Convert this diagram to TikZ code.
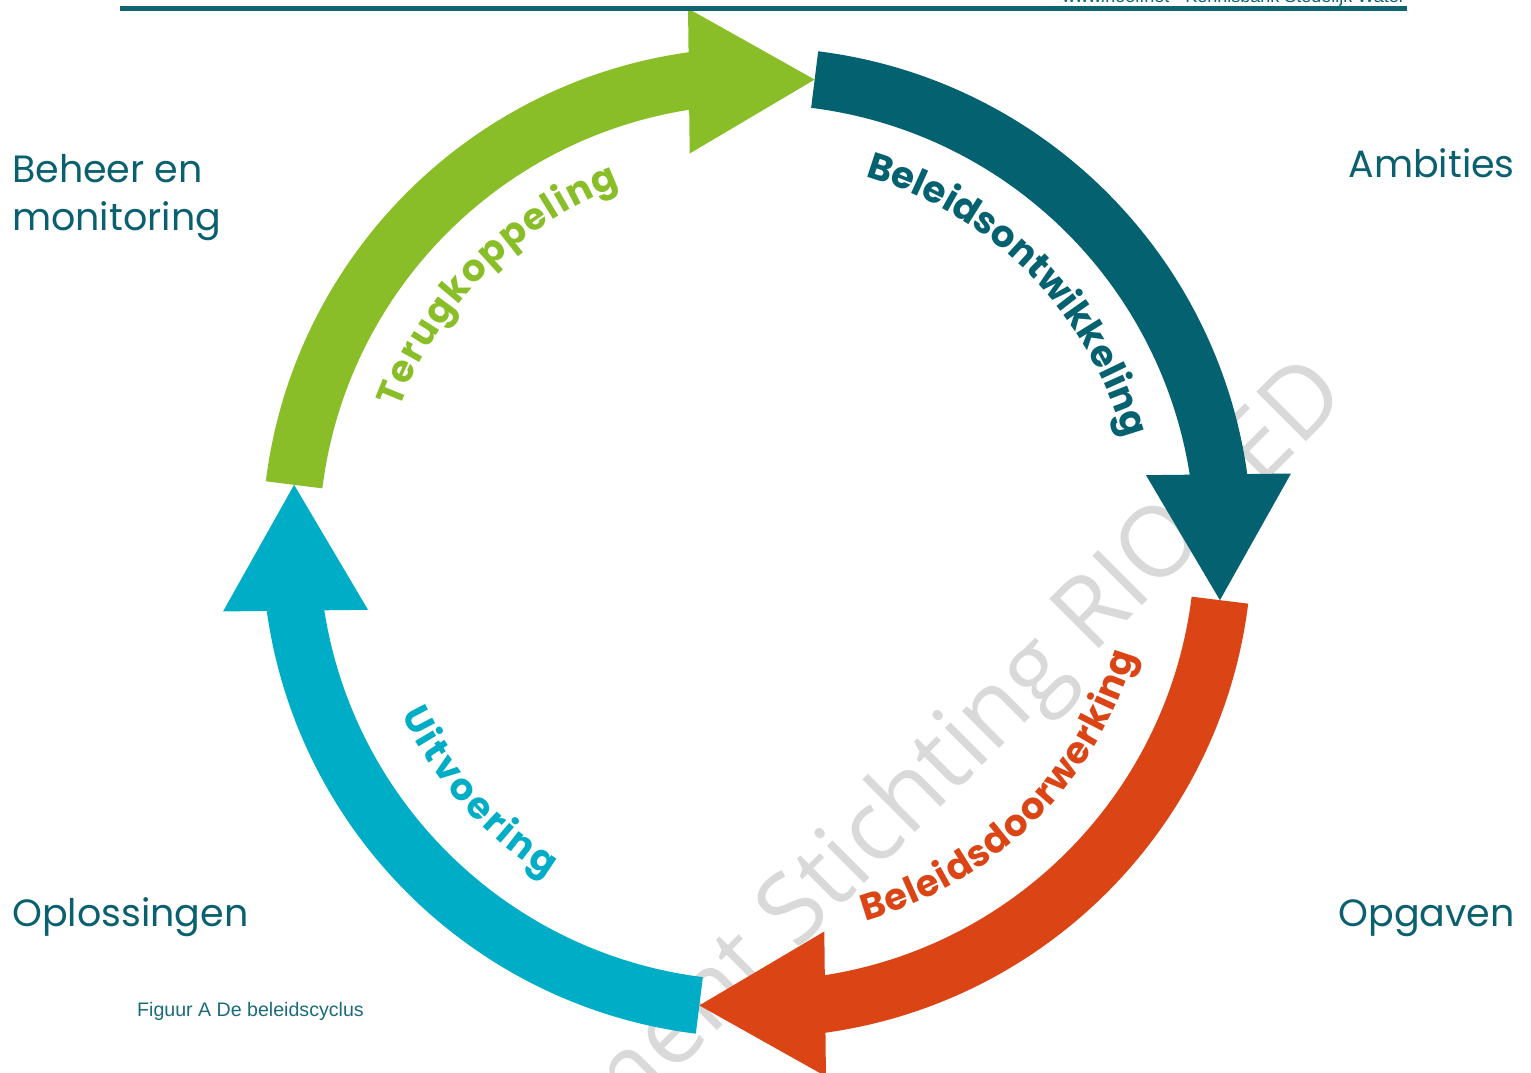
\documentclass[tikz,border=0pt]{standalone}
\usepackage{fontspec}
\usetikzlibrary{calc,decorations.text}
\newfontfamily\popf{Poppins}
\newfontfamily\opens{Open Sans}
\newfontfamily\arialf{Liberation Sans}
\definecolor{cgreen}{RGB}{138,190,40}
\definecolor{cteal}{RGB}{4,98,112}
\definecolor{corange}{RGB}{219,69,21}
\definecolor{ccyan}{RGB}{0,173,198}
\definecolor{clabel}{RGB}{10,96,110}
\definecolor{cwm}{RGB}{217,217,217}
\definecolor{cline}{RGB}{14,101,113}
\definecolor{ccap}{RGB}{27,107,122}
\newcommand\cycarrow[2]{%
  \pgfmathsetmacro\angE{#2-76}%
  \pgfmathsetmacro\angB{#2-74.5}%
  \pgfmathsetmacro\angT{#2-90}%
  \pgfmathsetmacro\angM{#2-82.25}%
  \pgfmathsetmacro\angN{#2-82.25+180}%
  \fill[#1] ([shift={(#2:495)}]C) arc[start angle=#2, end angle=\angE, radius=495]
     -- ([shift={(\angE:438)}]C) arc[start angle=\angE, end angle=#2, radius=438] -- cycle;
  \fill[#1] ($(C)+(\angB:466.5)+(\angM:72.5)$) -- ($(C)+(\angT:466.5)$)
     -- ($(C)+(\angB:466.5)+(\angN:72.5)$) -- cycle;
}
\newcommand\arcfont{\popf\bfseries\fontsize{37}{37}\selectfont}
\tikzset{
  wm/.style={font=\opens\fontsize{98}{98}\selectfont, text=cwm, rotate=45, inner sep=0pt},
  biglabel/.style={font=\popf\fontsize{38}{38}\selectfont, text=clabel, inner sep=0pt},
  smalltext/.style={font=\arialf\fontsize{19.6}{19.6}\selectfont, inner sep=0pt}
}
\begin{document}
\begin{tikzpicture}[x=1pt,y=1pt]
\useasboundingbox (0,0) rectangle (1531,1073);
\coordinate (C) at (757,530.5);
% watermark
\node[wm, anchor=base east] (wm1) at (778.2,103.2) {Document};
\node[wm, anchor=base west] (wm2) at (796.2,121.2) {Stichting RIONED};
% arrows
\cycarrow{cteal}{82.9}
\cycarrow{corange}{-7.1}
\cycarrow{ccyan}{262.9}
\cycarrow{cgreen}{172.9}
% curved labels
\path[decorate, decoration={text along path, text align={fit to path},
  text={|\arcfont\color{cteal}|Beleidsontwikkeling}}]
  ([shift={(73.5:382)}]C) arc[start angle=73.5, end angle=16.5, radius=382];
\path[decorate, decoration={text along path, text align={fit to path},
  text={|\arcfont\color{cgreen}|Terugkoppeling}}]
  ([shift={(159.5:382)}]C) arc[start angle=159.5, end angle=111, radius=382];
\path[decorate, decoration={text along path, text align={fit to path},
  text={|\arcfont\color{corange}|Beleidsdoorwerking}}]
  ([shift={(-74:394)}]C) arc[start angle=-74, end angle=-16.5, radius=394];
\path[decorate, decoration={text along path, text align={fit to path},
  text={|\arcfont\color{ccyan}|Uitvoering}}]
  ([shift={(205.8:395)}]C) arc[start angle=205.8, end angle=238, radius=395];
% corner labels
\node[biglabel, anchor=base east] (amb) at (1515,895) {Ambities};
\node[biglabel, anchor=base west] (beh1) at (12,890) {Beheer en};
\node[biglabel, anchor=base west] (beh2) at (12,842) {monitoring};
\node[biglabel, anchor=base west] (opl) at (12,146) {Oplossingen};
\node[biglabel, anchor=base east] (opg) at (1515,146) {Opgaven};
% header
\coordinate (hl1) at (120,1064.5);
\coordinate (hl2) at (1407,1064.5);
\draw[line width=5pt, cline] (hl1) -- (hl2);
\node[smalltext, text=cline, font=\arialf\fontsize{18}{18}\selectfont, anchor=base east] (hdr) at (1405,1070) {www.riool.net - Kennisbank Stedelijk Water};
% caption
\node[smalltext, text=ccap, anchor=base west] (cap) at (137,56) {Figuur A De beleidscyclus};
\end{tikzpicture}
\end{document}
